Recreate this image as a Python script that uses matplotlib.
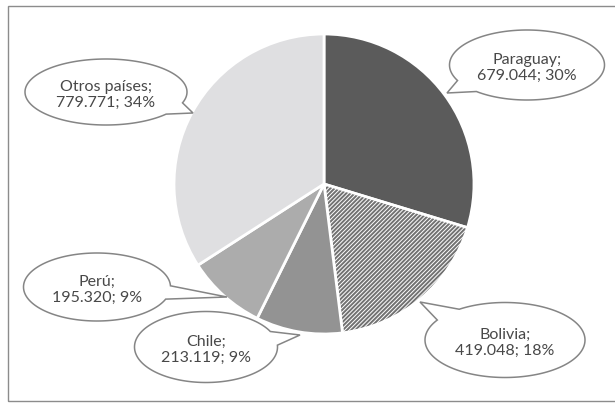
import numpy as np
import matplotlib
matplotlib.use("Agg")
import matplotlib.pyplot as plt
from matplotlib.patches import Polygon, Rectangle

# Datos por país
paises = ["Paraguay", "Bolivia", "Chile", "Perú", "Otros países"]
valores = [679044, 419048, 213119, 195320, 779771]

# Estilo de cada porción
colores = ["#5b5b5b", "#727272", "#939393", "#acacac", "#dfdfe1"]
tramas = [None, "////////", None, None, None]

# Globos de texto: centro, ancho, alto y punta (px, y hacia abajo)
globo_centro = [(527, 65), (505, 340), (206, 347), (97, 287), (106, 92)]
globo_tam = [(155, 70), (160, 75), (143, 71), (147, 68), (162, 66)]
globo_punta = [(447, 93), (420, 302), (300, 335), (227, 297), (193, 113)]

W, H = 615, 407
CENTRO = (324, H - 184)
RADIO = 150

plt.rcParams['font.family'] = ['Lato', 'DejaVu Sans']
plt.rcParams['hatch.color'] = '#404040'
plt.rcParams['hatch.linewidth'] = 0.7


def miles(v):
    return f"{v:,}".replace(",", ".")


def globo(ax, cx, cy, w, h, tx, ty, delta=0.2):
    """Elipse con punta hacia (tx, ty), en coordenadas con y hacia arriba."""
    a, b = w / 2, h / 2
    phi = np.arctan2((ty - cy) / b, (tx - cx) / a)
    t = np.linspace(phi + delta, phi + 2 * np.pi - delta, 200)
    pts = np.column_stack([cx + a * np.cos(t), cy + b * np.sin(t)])
    pts = np.vstack([pts, [tx, ty]])
    ax.add_patch(Polygon(pts, closed=True, facecolor="white",
                         edgecolor="#858585", linewidth=1.1, zorder=5))


fig = plt.figure(figsize=(W / 100, H / 100), dpi=100)
fig.patch.set_facecolor("white")
ax = fig.add_axes([0, 0, 1, 1])

wedges, _ = ax.pie(valores, colors=colores, startangle=90, counterclock=False,
                   radius=RADIO, center=CENTRO, frame=True,
                   wedgeprops=dict(edgecolor="white", linewidth=2))
for w, h in zip(wedges, tramas):
    if h:
        w.set_hatch(h)

total = sum(valores)
for i, nombre in enumerate(paises):
    cx, cy = globo_centro[i]
    w, h = globo_tam[i]
    tx, ty = globo_punta[i]
    globo(ax, cx, H - cy, w, h, tx, H - ty)
    pct = round(100 * valores[i] / total)
    ax.text(cx, H - cy - 3, f"{nombre};\n{miles(valores[i])}; {pct}%",
            ha="center", va="center", fontsize=11.5, color="#484848",
            linespacing=1.2, zorder=6)

# Marco del gráfico
ax.add_patch(Rectangle((8, H - 401), 620, 395, fill=False,
                       edgecolor="#8c8c8c", linewidth=1.0, zorder=7))

ax.set_xlim(0, W)
ax.set_ylim(0, H)
ax.set_aspect("auto")
ax.axis("off")

fig.savefig("out.png", dpi=100, facecolor="white")
